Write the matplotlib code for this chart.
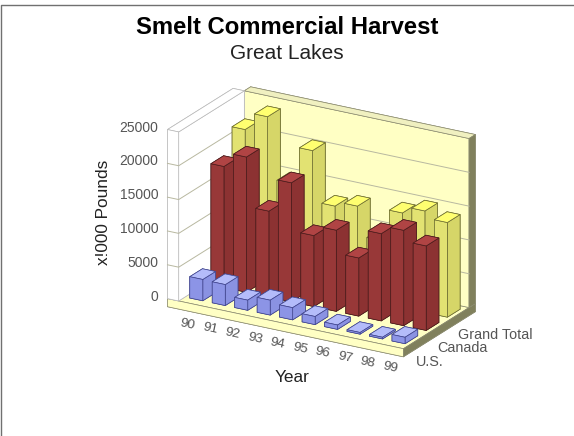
import matplotlib
matplotlib.use('Agg')
import matplotlib.pyplot as plt
from matplotlib.lines import Line2D
from mpl_toolkits.mplot3d import proj3d

plt.rcParams['font.family'] = ['Liberation Sans', 'DejaVu Sans']

# values (x1000 pounds)
years = ['90', '91', '92', '93', '94', '95', '96', '97', '98', '99']
series_names = ['U.S.', 'Canada', 'Grand Total']
us = [3150, 3100, 1500, 2200, 1800, 1200, 650, 250, 250, 950]
canada = [17900, 20000, 12700, 17600, 10500, 12000, 8600, 12900, 14100, 12500]
grand_total = [21400, 24000, 14900, 20400, 12900, 13600, 9250, 14000, 15000, 14000]
z_ticks = [0, 5000, 10000, 15000, 20000, 25000]

# face order for bar3d: bottom, top, front, back, left, right
yellow = ['#d8d868', '#ffff70', '#e2e272', '#d8d868', '#d8d868', '#d6d668']
red = ['#8a3030', '#b04444', '#983838', '#8a3030', '#8a3030', '#8c3232']
blue = ['#8088d8', '#b4bcfa', '#8c94e6', '#8088d8', '#8088d8', '#8a92e2']
cream = '#ffffc4'

fig = plt.figure(figsize=(5.74, 4.36), dpi=100)
ax = fig.add_axes([0.1758, -0.016, 0.76, 1.0], projection='3d', computed_zorder=False)
ax.set_proj_type('ortho')
ax.view_init(elev=21.4, azim=-59.8)
ax.set_xlim(0, 10, view_margin=0)
ax.set_ylim(0, 3, view_margin=0)
ax.set_zlim(0, 25000, view_margin=0)
ax.set_box_aspect((261.5, 127, 182.6), zoom=0.76)
ax.set_axis_off()


def slab(x0, x1, y0, y1, z0, z1, colors, order, edge='#8a8a70'):
    ax.bar3d(x0, y0, z0, x1 - x0, y1 - y0, z1 - z0, color=colors, shade=False,
             edgecolor=edge, linewidth=0.5, zorder=order)


def label(x, y, z, s, **kw):
    # place a 2D text at the projected spot of a 3D point
    px, py, _ = proj3d.proj_transform(x, y, z, ax.get_proj())
    ax.text2D(px, py, s, transform=ax.transData, color='#555555', zorder=100, **kw)


# floor, back wall and side wall
slab(-0.5, 10, -0.1, 3.3, -1200, 0, [cream, cream, cream, cream, cream, '#80805c'], 1)
slab(0, 10, 3, 3.3, 0, 25000, [cream, '#f0f0c0', cream, cream, cream, '#80805c'], 2)
slab(-0.5, 0, -0.1, 3, 0, 25000, ['white'] * 6, 3, edge='#b8b8b8')

# grid lines
for z in z_ticks[1:-1]:
    ax.plot([-0.5, 0, 0, 10], [-0.1, -0.1, 3, 3], [z, z, z, z], color='#b8b8a0', lw=0.7, zorder=4)

# bars, back row first
order = 10
rows = [(2, grand_total, yellow, '#6a6a30'), (1, canada, red, '#4a1c1c'), (0, us, blue, '#40448c')]
for row, values, colors, edge in rows:
    for i, v in enumerate(values):
        ax.bar3d(i + 0.21, row + 0.2, 0, 0.58, 0.6, v, color=colors, shade=False,
                 edgecolor=edge, linewidth=0.5, zorder=order)
        order += 1

# tick labels
for z in z_ticks:
    label(-0.9, -0.1, z, str(z), ha='right', va='center', fontsize=10)
for i, y in enumerate(years):
    label(i + 0.5, -0.2, -2900, y, ha='center', va='center', fontsize=9.7, rotation=-12)
for row, name in enumerate(series_names):
    label(10, row + 0.5, -3100, name, ha='left', va='center', fontsize=10.4)

fig.text(0.50, 0.938, 'Smelt Commercial Harvest', ha='center', va='center', fontsize=17.2, fontweight='bold')
fig.text(0.50, 0.877, 'Great Lakes', ha='center', va='center', fontsize=15, color='#222222')
fig.text(0.181, 0.5126, 'x!000 Pounds', ha='center', va='center', rotation=90, fontsize=12.4, color='#222222')
fig.text(0.509, 0.135, 'Year', ha='center', va='center', fontsize=12.4, color='#222222')

# thin frame along the top and left of the picture
fig.add_artist(Line2D([0.002, 0.002, 1], [0, 0.989, 0.989], color='#707070', lw=1))

fig.savefig('out.png', dpi=100)
